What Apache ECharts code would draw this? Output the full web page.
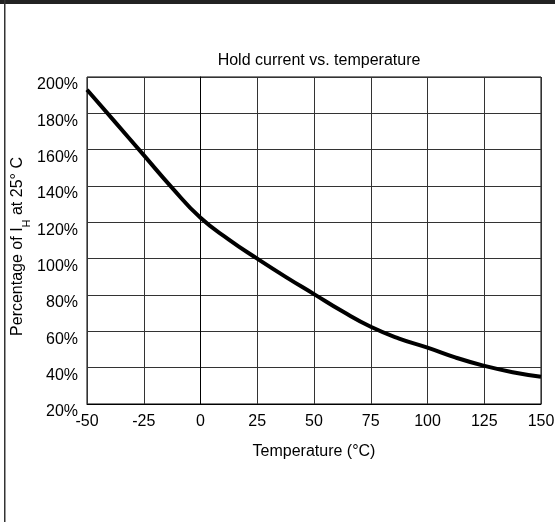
<!DOCTYPE html>
<html>
<head>
<meta charset="utf-8">
<script src="https://cdn.jsdelivr.net/npm/echarts@6/dist/echarts.min.js"></script>
<style>
  html, body { margin: 0; padding: 0; background: #fff; }
  #chart { width: 555px; height: 522px; }
</style>
</head>
<body>
<div id="chart"></div>
<script>
const titleText = 'Hold current vs. temperature'
const xName = 'Temperature (°C)'
const temps = [-50, -37.5, -25, -12.5, 0, 12.5, 25, 37.5, 50, 62.5, 75, 87.5, 100, 112.5, 125, 137.5, 150]
const percent = [193, 175, 157, 139, 122.5, 110.5, 100, 90, 80.5, 71, 62.5, 56, 51, 45.5, 41, 37.5, 35]

const chart = echarts.init(document.getElementById('chart'))
const font = 'Liberation Sans, Arial, Helvetica, sans-serif'

const option = {
  animation: false,
  textStyle: { fontFamily: font },
  title: {
    text: titleText,
    left: 314,
    textAlign: 'center',
    top: 48,
    textStyle: { fontSize: 16, fontWeight: 'normal', color: '#000', fontFamily: font }
  },
  grid: {
    left: 87,
    right: 14,
    top: 77,
    bottom: 118,
    outerBoundsMode: 'none',
    show: true,
    borderColor: '#000',
    borderWidth: 1
  },
  xAxis: {
    type: 'value',
    min: -50,
    max: 150,
    interval: 25,
    name: xName,
    nameLocation: 'middle',
    nameGap: 40,
    nameMoveOverlap: false,
    nameTextStyle: { fontSize: 16, color: '#000', fontFamily: font },
    axisLine: { lineStyle: { color: '#000', width: 1 } },
    axisTick: { show: false },
    axisLabel: { fontSize: 16, color: '#000', margin: 10, fontFamily: font },
    splitLine: { show: true, lineStyle: { color: '#333', width: 1 } }
  },
  yAxis: {
    type: 'value',
    min: 20,
    max: 200,
    interval: 20,
    name: '{n|Percentage of I}{s|H}{n| at 25° C}',
    nameLocation: 'middle',
    nameGap: 59,
    nameMoveOverlap: false,
    nameTextStyle: {
      fontSize: 16,
      color: '#000',
      fontFamily: font,
      padding: [0, 12, 0, 0],
      rich: {
        n: { fontSize: 16, color: '#000', fontFamily: font, lineHeight: 20 },
        s: { fontSize: 11, color: '#000', fontFamily: font, lineHeight: 20, verticalAlign: 'bottom', padding: [0, 0, -4, 0] }
      }
    },
    axisLine: { show: true, lineStyle: { color: '#000', width: 1 } },
    axisTick: { show: false },
    axisLabel: {
      fontSize: 16, color: '#000', margin: 9, formatter: '{value}%', fontFamily: font,
      verticalAlign: 'top'
    },
    splitLine: { show: true, lineStyle: { color: '#333', width: 1 } }
  },
  graphic: [
    { type: 'rect', left: 0, top: 0, shape: { width: 555, height: 4 }, style: { fill: '#222' }, z: 100 },
    { type: 'rect', left: 4, top: 0, shape: { width: 1.5, height: 522 }, style: { fill: '#333' }, z: 100 }
  ],
  series: [
    {
      type: 'line',
      data: temps.map((t, i) => [t, percent[i]]),
      smooth: 0.5,
      showSymbol: false,
      clip: true,
      lineStyle: { color: '#000', width: 4 }
    }
  ]
}

chart.setOption(option)
</script>
</body>
</html>
